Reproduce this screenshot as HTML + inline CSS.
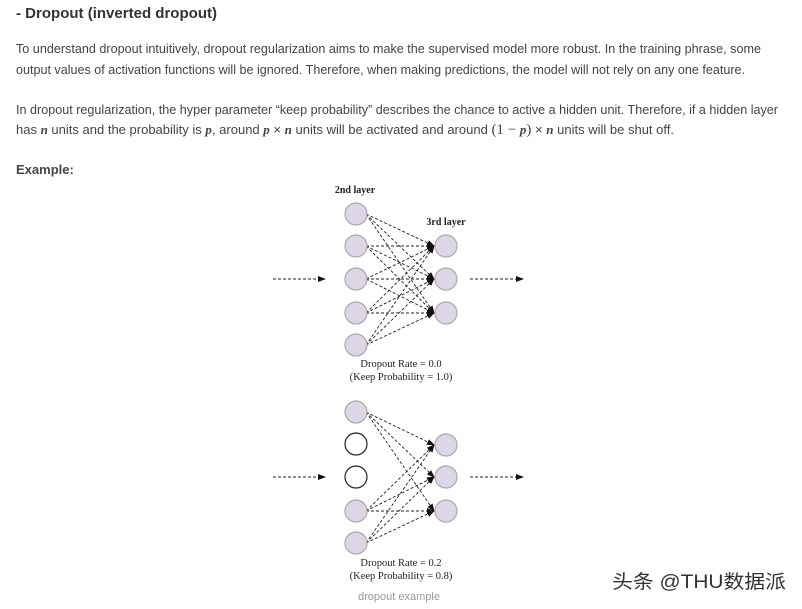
<!DOCTYPE html>
<html><head><meta charset="utf-8"><style>
html,body{margin:0;padding:0;background:#fff;width:802px;height:609px;overflow:hidden}
svg{display:block}
.p{font-family:"Liberation Sans",sans-serif;font-size:13px;fill:#444}
.s{font-family:"Liberation Serif",serif;fill:#222}
.m{font-family:"Liberation Serif",serif;font-style:italic;font-weight:bold}
</style></head><body>
<svg width="802" height="609" viewBox="0 0 802 609" xmlns="http://www.w3.org/2000/svg">
<defs>
<marker id="a" markerWidth="8" markerHeight="8" refX="7" refY="4" orient="auto" markerUnits="userSpaceOnUse">
<path d="M0,1 L8,4 L0,7 Z" fill="#111"/></marker>
</defs>
<text x="16" y="18" font-family="Liberation Sans,sans-serif" font-size="15" font-weight="bold" fill="#333" textLength="201" lengthAdjust="spacingAndGlyphs">- Dropout (inverted dropout)</text>
<text class="p" x="16" y="53" textLength="745" lengthAdjust="spacingAndGlyphs">To understand dropout intuitively, dropout regularization aims to make the supervised model more robust. In the training phrase, some</text>
<text class="p" x="16" y="74" textLength="729" lengthAdjust="spacingAndGlyphs">output values of activation functions will be ignored. Therefore, when making predictions, the model will not rely on any one feature.</text>
<text class="p" x="16" y="114" textLength="762" lengthAdjust="spacingAndGlyphs">In dropout regularization, the hyper parameter “keep probability” describes the chance to active a hidden unit. Therefore, if a hidden layer</text>
<text class="p" x="16" y="134" textLength="658" lengthAdjust="spacingAndGlyphs">has <tspan class="m">n</tspan> units and the probability is <tspan class="m">p</tspan>, around <tspan class="m">p</tspan> × <tspan class="m">n</tspan> units will be activated and around <tspan font-family="Liberation Serif,serif" font-size="15">(1 − </tspan><tspan class="m">p</tspan><tspan font-family="Liberation Serif,serif" font-size="15">)</tspan> × <tspan class="m">n</tspan> units will be shut off.</text>
<text x="16" y="174" font-family="Liberation Sans,sans-serif" font-size="13" font-weight="bold" fill="#444">Example:</text>

<g stroke="#222" stroke-width="0.9" stroke-dasharray="3,2" fill="none">
<!-- top -->
<line x1="273" y1="279" x2="325" y2="279" marker-end="url(#a)"/>
<line x1="470" y1="279" x2="523" y2="279" marker-end="url(#a)"/>
<g marker-end="url(#a)">
<line x1="366" y1="214" x2="434" y2="246"/><line x1="366" y1="214" x2="434" y2="279"/><line x1="366" y1="214" x2="434" y2="313"/>
<line x1="366" y1="246" x2="434" y2="246"/><line x1="366" y1="246" x2="434" y2="279"/><line x1="366" y1="246" x2="434" y2="313"/>
<line x1="366" y1="279" x2="434" y2="246"/><line x1="366" y1="279" x2="434" y2="279"/><line x1="366" y1="279" x2="434" y2="313"/>
<line x1="366" y1="313" x2="434" y2="246"/><line x1="366" y1="313" x2="434" y2="279"/><line x1="366" y1="313" x2="434" y2="313"/>
<line x1="366" y1="345" x2="434" y2="246"/><line x1="366" y1="345" x2="434" y2="279"/><line x1="366" y1="345" x2="434" y2="313"/>
</g>
<!-- bottom -->
<line x1="273" y1="477" x2="325" y2="477" marker-end="url(#a)"/>
<line x1="470" y1="477" x2="523" y2="477" marker-end="url(#a)"/>
<g marker-end="url(#a)">
<line x1="366" y1="412" x2="434" y2="445"/><line x1="366" y1="412" x2="434" y2="477"/><line x1="366" y1="412" x2="434" y2="511"/>
<line x1="366" y1="511" x2="434" y2="445"/><line x1="366" y1="511" x2="434" y2="477"/><line x1="366" y1="511" x2="434" y2="511"/>
<line x1="366" y1="543" x2="434" y2="445"/><line x1="366" y1="543" x2="434" y2="477"/><line x1="366" y1="543" x2="434" y2="511"/>
</g>
</g>
<g fill="#ddd6e6" stroke="#aaa" stroke-width="1.2">
<circle cx="356" cy="214" r="11"/><circle cx="356" cy="246" r="11"/><circle cx="356" cy="279" r="11"/><circle cx="356" cy="313" r="11"/><circle cx="356" cy="345" r="11"/>
<circle cx="446" cy="246" r="11"/><circle cx="446" cy="279" r="11"/><circle cx="446" cy="313" r="11"/>
<circle cx="356" cy="412" r="11"/><circle cx="356" cy="511" r="11"/><circle cx="356" cy="543" r="11"/>
<circle cx="446" cy="445" r="11"/><circle cx="446" cy="477" r="11"/><circle cx="446" cy="511" r="11"/>
</g>
<g fill="#fff" stroke="#222" stroke-width="1.2">
<circle cx="356" cy="444" r="11"/><circle cx="356" cy="477" r="11"/>
</g>
<text class="s" x="355" y="193" font-size="10" font-weight="bold" text-anchor="middle">2nd layer</text>
<text class="s" x="446" y="225" font-size="10" font-weight="bold" text-anchor="middle">3rd layer</text>
<text class="s" x="401" y="367" font-size="10.5" text-anchor="middle">Dropout Rate = 0.0</text>
<text class="s" x="401" y="380" font-size="10.5" text-anchor="middle">(Keep Probability = 1.0)</text>
<text class="s" x="401" y="566" font-size="10.5" text-anchor="middle">Dropout Rate = 0.2</text>
<text class="s" x="401" y="579" font-size="10.5" text-anchor="middle">(Keep Probability = 0.8)</text>
<text x="399" y="600" font-family="Liberation Sans,sans-serif" font-size="11" fill="#999" text-anchor="middle">dropout example</text>
<text x="612" y="588" font-family="Liberation Sans,'Noto Sans CJK SC',sans-serif" font-size="19" fill="#333" textLength="174" lengthAdjust="spacingAndGlyphs">头条 @THU数据派</text>
</svg>
</body></html>
